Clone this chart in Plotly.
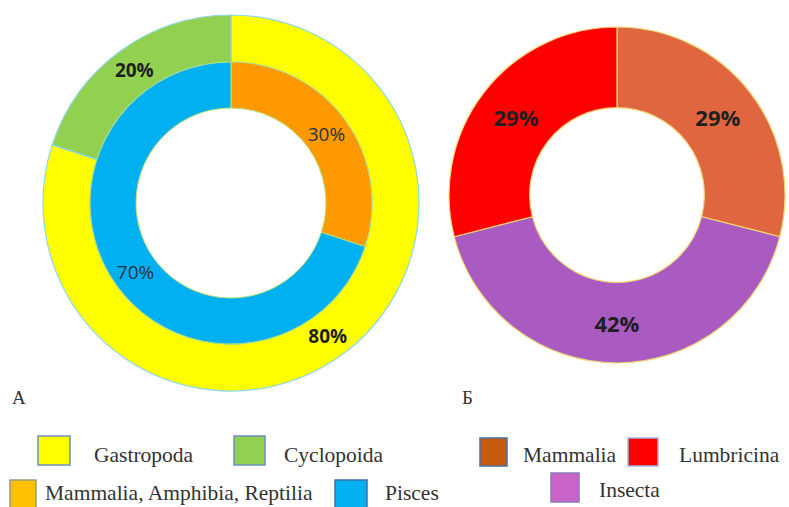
import plotly.graph_objects as go

# ---------------- data ----------------
outer_labels = ["Gastropoda", "Cyclopoida"]
outer_values = [80, 20]
inner_labels = ["Mammalia, Amphibia, Reptilia", "Pisces"]
inner_values = [30, 70]
right_labels = ["Mammalia", "Insecta", "Lumbricina"]
right_values = [29, 42, 29]
panel_labels = ["А", "Б"]

legend_a_labels = ["Gastropoda", "Cyclopoida", "Mammalia, Amphibia, Reptilia", "Pisces"]
legend_b_labels = ["Mammalia", "Lumbricina", "Insecta"]

# ---------------- styles ----------------
outer_colors = ["#FFFF00", "#92D050"]
inner_colors = ["#FF9900", "#00B0F0"]
right_colors = ["#E0663F", "#A95BC2", "#FF0000"]
legend_a_colors = ["#FFFF00", "#92D050", "#FFC000", "#00B0F0"]
legend_a_borders = ["#6C8EBF", "#6C8EBF", "#9A9A7A", "#3E6FA8"]
legend_b_colors = ["#C55A11", "#FF0000", "#C864C8"]
legend_b_borders = ["#4F6E9E", "#9DB9DC", "#8C7BB8"]

W, H = 789, 507


def px_x(x):
    return x / W


def px_y(y):
    return 1 - y / H


def domain(cx, cy, r):
    return dict(x=[px_x(cx - r), px_x(cx + r)], y=[px_y(cy + r), px_y(cy - r)])


fig = go.Figure()

# left: outer ring
fig.add_trace(go.Pie(
    labels=outer_labels, values=outer_values, sort=False, direction="clockwise", rotation=0,
    hole=141 / 188, domain=domain(231, 203, 188),
    marker=dict(colors=outer_colors, line=dict(color="#8FD6E6", width=1.2)),
    texttemplate="%{value}%", textposition="inside", insidetextorientation="horizontal",
    textfont=dict(family="Open Sans", size=19, color="#1F1F1F", weight="bold"),
    showlegend=False, hoverinfo="label+percent",
))
# left: inner ring
fig.add_trace(go.Pie(
    labels=inner_labels, values=inner_values, sort=False, direction="clockwise", rotation=0,
    hole=95 / 141, domain=domain(231, 203, 141),
    marker=dict(colors=inner_colors, line=dict(color="#B8E07A", width=1)),
    texttemplate="%{value}%", textposition="inside", insidetextorientation="horizontal",
    textfont=dict(family="Open Sans", size=19, color="#2B3340"),
    showlegend=False, hoverinfo="label+percent",
))
# right donut
fig.add_trace(go.Pie(
    labels=right_labels, values=right_values, sort=False, direction="clockwise", rotation=0,
    hole=0.52, domain=domain(617, 195, 168),
    marker=dict(colors=right_colors, line=dict(color="#F2D675", width=1.2)),
    texttemplate="%{value}%", textposition="inside", insidetextorientation="horizontal",
    textfont=dict(family="Open Sans", size=22, color="#1F1F1F", weight="bold"),
    showlegend=False, hoverinfo="label+percent",
))

shapes = []
annotations = []

# panel letters
for lab, (x, y) in zip(panel_labels, [(10, 397), (460, 397)]):
    annotations.append(dict(text=lab, x=px_x(x), y=px_y(y), xref="paper", yref="paper",
                            xanchor="left", yanchor="middle", showarrow=False,
                            font=dict(family="Liberation Serif", size=19, color="#333333")))

# legend layout (pixel positions)
leg_a_pos = [((38, 70, 436, 465), (92, 455)),
             ((234, 265, 436, 465), (282, 455)),
             ((10, 36, 480, 508), (43, 493)),
             ((335, 367, 480, 508), (383, 493))]
leg_b_pos = [((480, 507, 438, 466), (521, 455)),
             ((628, 658, 438, 466), (677, 455)),
             ((551, 579, 473, 502), (597, 490))]

for labels, colors, borders, pos in [(legend_a_labels, legend_a_colors, legend_a_borders, leg_a_pos),
                                     (legend_b_labels, legend_b_colors, legend_b_borders, leg_b_pos)]:
    for lab, col, bc, ((x0, x1, y0, y1), (tx, ty)) in zip(labels, colors, borders, pos):
        shapes.append(dict(type="rect", xref="paper", yref="paper",
                           x0=px_x(x0), x1=px_x(x1), y0=px_y(y1), y1=px_y(y0),
                           fillcolor=col, line=dict(color=bc, width=1.5)))
        annotations.append(dict(text=lab, x=px_x(tx), y=px_y(ty), xref="paper", yref="paper",
                                xanchor="left", yanchor="middle", showarrow=False,
                                font=dict(family="Liberation Serif", size=21.5, color="#333333")))

fig.update_layout(
    width=W, height=H, margin=dict(l=0, r=0, t=0, b=0),
    paper_bgcolor="white", plot_bgcolor="white",
    shapes=shapes, annotations=annotations,
)

fig.write_html("out.html", config={"displayModeBar": False},
               post_script="document.body.style.margin='0';document.body.style.overflow='hidden';")
